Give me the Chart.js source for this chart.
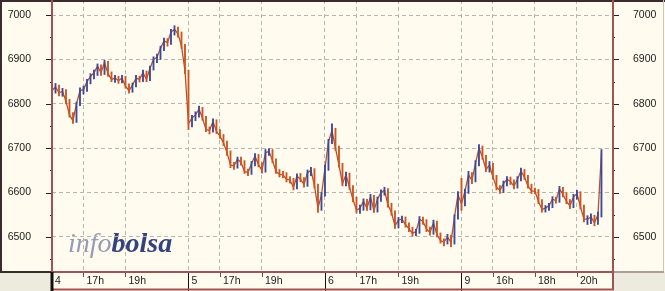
<!DOCTYPE html>
<html>
<head>
<meta charset="utf-8">
<script src="https://cdn.jsdelivr.net/npm/chart.js@4.4.1/dist/chart.umd.min.js"></script>
<style>
html,body{margin:0;padding:0;background:#fffbee;}
canvas{display:block;}
</style>
</head>
<body>
<canvas id="c" width="665" height="291"></canvas>
<script>
// 10-minute slots, the 4th 15:30 -> the 9th ~21:15 (slot index = position on x)
var closes = [].concat(
  [6830,6838,6825,6828,6805,6775,6762,6800,6830,6832,6850,6862,6870,6885,6870,6893,6868,6855,6858,6852,6858,6840,6830,6842,6858,6855,6870,6855,6880,6900,6905,6925,6942,6938,6962,6968,6958,6930,6875],
  [6755,6768,6775,6788,6768,6742,6740,6760,6738,6727,6712,6690,6662,6660,6675,6668,6648,6645,6665,6682,6663,6650,6690,6693,6672,6648,6641,6640,6630,6628,6612,6637,6630,6618,6645,6650,6615,6565,6595],
  [6655,6715,6740,6700,6662,6620,6640,6612,6585,6560,6565,6580,6565,6590,6560,6585,6600,6605,6572,6555,6525,6538,6540,6528,6518,6508,6512,6540,6535,6518,6510,6532,6505,6492,6488,6500,6488,6545,6595],
  [6575,6603,6640,6628,6665,6700,6680,6652,6662,6635,6612,6605,6620,6630,6625,6614,6630,6648,6635,6615,6604,6603,6580,6562,6565,6570,6585,6582,6608,6596,6580,6570,6590,6598,6568,6540,6540,6545,6532,6550,6690]
);
var highs = [].concat(
  [6845,6846,6842,6835,6832,6810,6780,6804,6836,6840,6855,6868,6876,6890,6888,6898,6896,6872,6864,6862,6864,6862,6845,6847,6864,6862,6876,6874,6885,6906,6912,6930,6948,6947,6968,6976,6973,6962,6934],
  [6876,6774,6782,6795,6792,6772,6748,6766,6764,6742,6731,6716,6694,6668,6680,6680,6672,6653,6670,6688,6686,6667,6697,6699,6697,6676,6652,6648,6645,6636,6632,6642,6643,6634,6651,6657,6654,6619,6600],
  [6662,6720,6755,6745,6705,6666,6646,6644,6616,6590,6572,6586,6585,6596,6594,6590,6606,6612,6609,6576,6559,6544,6547,6545,6532,6522,6518,6546,6545,6539,6522,6538,6536,6509,6496,6506,6504,6550,6602],
  [6632,6608,6648,6645,6672,6708,6705,6684,6670,6666,6639,6616,6626,6636,6635,6629,6636,6655,6652,6639,6619,6610,6607,6584,6571,6576,6591,6590,6614,6612,6600,6584,6596,6605,6602,6572,6548,6552,6549,6556,6697]
);
var lows = [].concat(
  [6728,6824,6818,6817,6800,6770,6756,6758,6796,6822,6828,6845,6856,6864,6864,6866,6862,6850,6848,6846,6847,6835,6824,6826,6838,6849,6850,6850,6852,6876,6893,6900,6920,6930,6934,6955,6950,6925,6868],
  [6742,6748,6762,6770,6763,6737,6732,6736,6733,6722,6706,6684,6656,6652,6655,6662,6643,6638,6641,6660,6658,6644,6646,6684,6667,6643,6635,6633,6624,6621,6606,6608,6624,6612,6614,6638,6610,6555,6560],
  [6592,6650,6710,6695,6657,6615,6615,6607,6579,6554,6553,6560,6560,6561,6555,6556,6580,6594,6567,6549,6519,6520,6532,6522,6512,6502,6503,6508,6528,6512,6504,6506,6500,6486,6480,6484,6478,6484,6540],
  [6560,6570,6598,6620,6624,6660,6675,6647,6646,6630,6606,6598,6600,6615,6618,6608,6610,6626,6630,6610,6598,6597,6575,6556,6556,6560,6566,6576,6578,6590,6575,6564,6566,6585,6563,6534,6528,6530,6525,6528,6545]
);
var tickSlots  = [0,9,21,39,48,60,78,87,99,117,126,138,150];
var tickLabels = ['4','17h','19h','5','17h','19h','6','17h','19h','9','16h','18h','20h'];
var yTicks = [6500,6600,6700,6800,6900,7000];
var yMinor = [6450,6550,6650,6750,6850,6950];

var CREAM = '#fffbee', GREY = '#ecebde', FRAME = '#a25252', UP = '#3a4a9c', DOWN = '#cf531f';
var FONT = {family:'"Liberation Sans", Arial, sans-serif', size:10.5};

var bars = closes.map(function(c,i){ return {x:i, y:[lows[i], highs[i]]}; });
var line = closes.map(function(c,i){ return {x:i, y:c}; });

function barColor(ctx){
  var i = ctx.dataIndex;
  var prev = i > 0 ? closes[i-1] : lows[i];
  return closes[i] >= prev ? UP : DOWN;
}
// fixed box sizes, no label padding leaking into the chart area
function fixBox(w, h){
  return function(s){
    if (w) s.width = w;
    if (h) s.height = h;
    s.paddingTop = s.paddingBottom = s.paddingLeft = s.paddingRight = 0;
  };
}

var frame = {
  id: 'frame',
  beforeDraw: function(chart){
    var c = chart.ctx, a = chart.chartArea, W = chart.width, H = chart.height;
    c.save();
    c.fillStyle = CREAM; c.fillRect(0,0,W,H);
    c.fillStyle = GREY;
    c.fillRect(0, a.bottom, a.left, H-a.bottom);
    c.fillRect(a.right, a.bottom, W-a.right, H-a.bottom);
    // logo
    c.textBaseline = 'alphabetic';
    c.font = 'italic 28px "Liberation Serif", serif';
    c.fillStyle = '#959bb9';
    c.fillText('info', 68, 252);
    var w = c.measureText('info').width;
    c.font = 'italic bold 28px "Liberation Serif", serif';
    c.fillStyle = '#34437c';
    c.fillText('bolsa', 68+w, 252);
    c.restore();
  },
  afterDraw: function(chart){
    var c = chart.ctx, a = chart.chartArea, W = chart.width, H = chart.height;
    var ys = chart.scales.y, xs = chart.scales.x;
    function seg(x1,y1,x2,y2){ c.beginPath(); c.moveTo(x1,y1); c.lineTo(x2,y2); c.stroke(); }
    c.save();
    c.strokeStyle = '#222'; c.lineWidth = 1;
    yTicks.forEach(function(v){
      var y = Math.round(ys.getPixelForValue(v)) + 0.5;
      seg(a.left-6, y, a.left, y); seg(a.right, y, a.right+6, y);
    });
    yMinor.forEach(function(v){
      var y = Math.round(ys.getPixelForValue(v)) + 0.5;
      seg(a.left-2, y, a.left, y); seg(a.right, y, a.right+2, y);
    });
    tickSlots.forEach(function(s,i){
      var x = Math.round(xs.getPixelForValue(s)) + 0.5;
      if (/h$/.test(tickLabels[i])) { c.strokeStyle = '#555'; seg(x, a.bottom, x, a.bottom+5); }
      else if (s > 0) { c.strokeStyle = '#111'; seg(x, a.bottom, x, H); }
    });
    // panel edges
    c.strokeStyle = '#3a2c2c'; c.lineWidth = 2;
    seg(1, 0, 1, a.bottom); seg(0, a.bottom, a.left, a.bottom);
    seg(0, 1, W, 1);
    c.strokeStyle = '#c9c6bc'; c.lineWidth = 1;
    seg(W-1.5, 0, W-1.5, a.bottom);
    c.strokeStyle = '#b09c98'; c.lineWidth = 2;
    seg(a.right, a.bottom, W-1, a.bottom);
    // plot frame
    c.strokeStyle = FRAME; c.lineWidth = 2;
    seg(a.left, 0, a.left, a.bottom);
    seg(a.right, 0, a.right, H-1);
    seg(a.left, a.bottom, a.right, a.bottom);
    seg(a.left, H-1.5, a.right+1, H-1.5);
    c.strokeStyle = '#111'; c.lineWidth = 3;
    seg(a.left, a.bottom, a.left, H);
    c.restore();
  }
};

new Chart(document.getElementById('c'), {
  data: {
    datasets: [
      {type:'bar', data:bars, backgroundColor:barColor, barThickness:1.2, grouped:false, order:1},
      {type:'line', data:line, borderColor:'#b8512c', borderWidth:1.3, pointRadius:0, tension:0, order:2}
    ]
  },
  options: {
    responsive:false, animation:false, devicePixelRatio:1,
    layout:{padding:0, autoPadding:false},
    plugins:{legend:{display:false}, tooltip:{enabled:false}},
    scales:{
      x:{
        type:'linear', min:0, max:160.3, position:'bottom', offset:false,
        afterFit:fixBox(0, 19),
        afterBuildTicks:function(s){ s.ticks = tickSlots.map(function(v){ return {value:v}; }); },
        grid:{offset:false, color:function(ctx){ return ctx.tick && ctx.tick.value === 0 ? 'transparent' : '#b9b7ad'; }, drawTicks:false},
        border:{display:false, dash:[4,3]},
        ticks:{
          autoSkip:false, maxRotation:0, align:'start', labelOffset:3, padding:3,
          color:'#1a1a1a', font:FONT,
          callback:function(v){ var k = tickSlots.indexOf(v); return k < 0 ? '' : tickLabels[k]; }
        }
      },
      y:{
        type:'linear', position:'left', min:6421, max:7034,
        afterFit:fixBox(52, 0),
        afterBuildTicks:function(s){ s.ticks = yTicks.map(function(v){ return {value:v}; }); },
        grid:{color:'#b9b7ad', drawTicks:false},
        border:{display:false, dash:[4,3]},
        ticks:{padding:21, color:'#1a1a1a', font:FONT, callback:function(v){ return String(v); }}
      },
      y2:{
        type:'linear', position:'right', min:6421, max:7034,
        afterFit:fixBox(52, 0),
        afterBuildTicks:function(s){ s.ticks = yTicks.map(function(v){ return {value:v}; }); },
        grid:{drawOnChartArea:false, drawTicks:false},
        border:{display:false},
        ticks:{padding:20, color:'#1a1a1a', font:FONT, callback:function(v){ return String(v); }}
      }
    }
  },
  plugins:[frame]
});
</script>
</body>
</html>
